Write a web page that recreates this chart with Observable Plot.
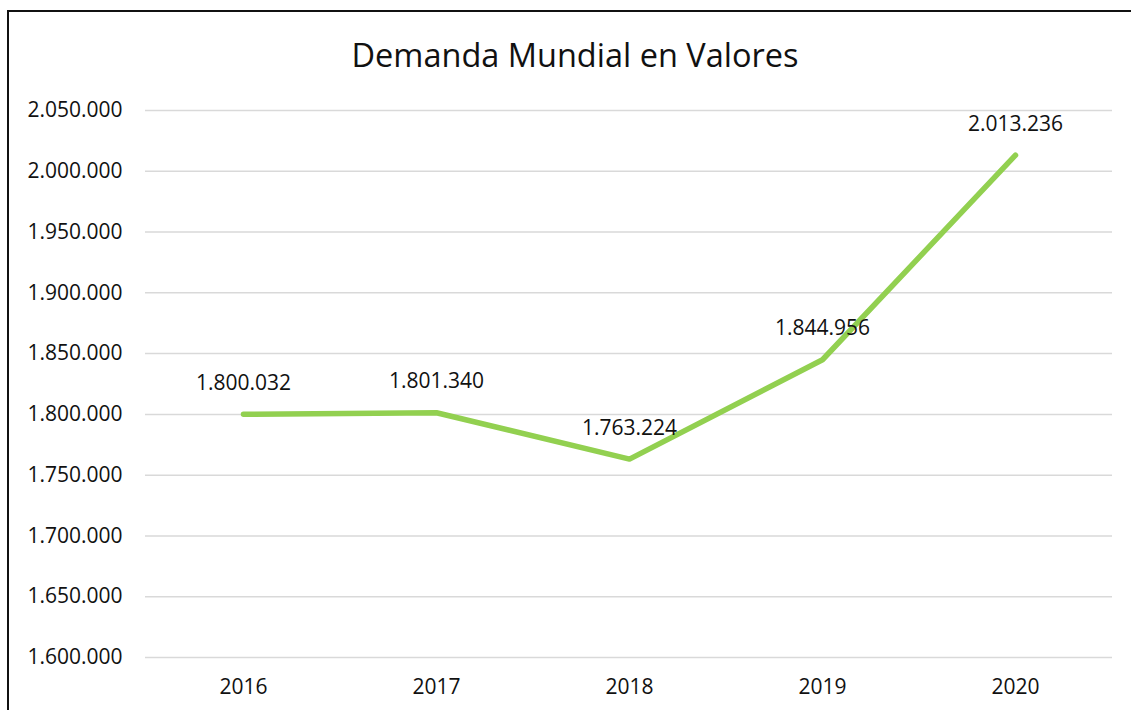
<!DOCTYPE html>
<html>
<head>
<meta charset="utf-8">
<script src="https://cdn.jsdelivr.net/npm/d3@7"></script>
<script src="https://cdn.jsdelivr.net/npm/@observablehq/plot@0.6"></script>
<style>
  html, body { margin: 0; padding: 0; background: #fff; }
  body { width: 1131px; height: 710px; position: relative; overflow: hidden; font-family: "Open Sans", sans-serif; }
  #frame { position: absolute; left: 7px; top: 10px; width: 1140px; height: 720px; border-left: 2.5px solid #111; border-top: 2.5px solid #111; box-sizing: border-box; }
  #title { position: absolute; left: 0; width: 1150px; top: 33px; text-align: center; font-size: 32.5px; color: #111; line-height: 44px; }
  #chart { position: absolute; left: 0; top: 0; }
</style>
</head>
<body>
<div id="frame"></div>
<div id="title">Demanda Mundial en Valores</div>
<div id="chart"></div>
<script>
const years = ["2016", "2017", "2018", "2019", "2020"];
const values = [1800032, 1801340, 1763224, 1844956, 2013236];
const yTicks = [1600000, 1650000, 1700000, 1750000, 1800000, 1850000, 1900000, 1950000, 2000000, 2050000];

const data = years.map((y, i) => ({year: y, value: values[i]}));
const fmt = v => d3.format(",")(v).replace(/,/g, ".");

const chart = Plot.plot({
  width: 1131,
  height: 710,
  marginLeft: 145,
  marginRight: 19,
  marginTop: 110,
  marginBottom: 53,
  style: {fontFamily: "Open Sans, sans-serif", fontSize: "21px", color: "#111", background: "transparent"},
  x: {type: "point", domain: years, padding: 0.5, label: null},
  y: {domain: [1600000, 2050000], label: null},
  marks: [
    Plot.ruleY(yTicks, {stroke: "#d9d9d9", strokeWidth: 1.5}),
    Plot.axisY({ticks: yTicks, tickSize: 0, tickPadding: 23, tickFormat: fmt, fontSize: 21, fill: "#111"}),
    Plot.axisX({tickSize: 0, tickPadding: 22, fontSize: 21, fill: "#111"}),
    Plot.line(data, {x: "year", y: "value", stroke: "#92D050", strokeWidth: 5.5, strokeLinecap: "round", strokeLinejoin: "round"}),
    Plot.text(data, {x: "year", y: "value", text: d => fmt(d.value), dy: -31, fontSize: 21, fill: "#111"})
  ]
});
document.getElementById("chart").appendChild(chart);
</script>
</body>
</html>
